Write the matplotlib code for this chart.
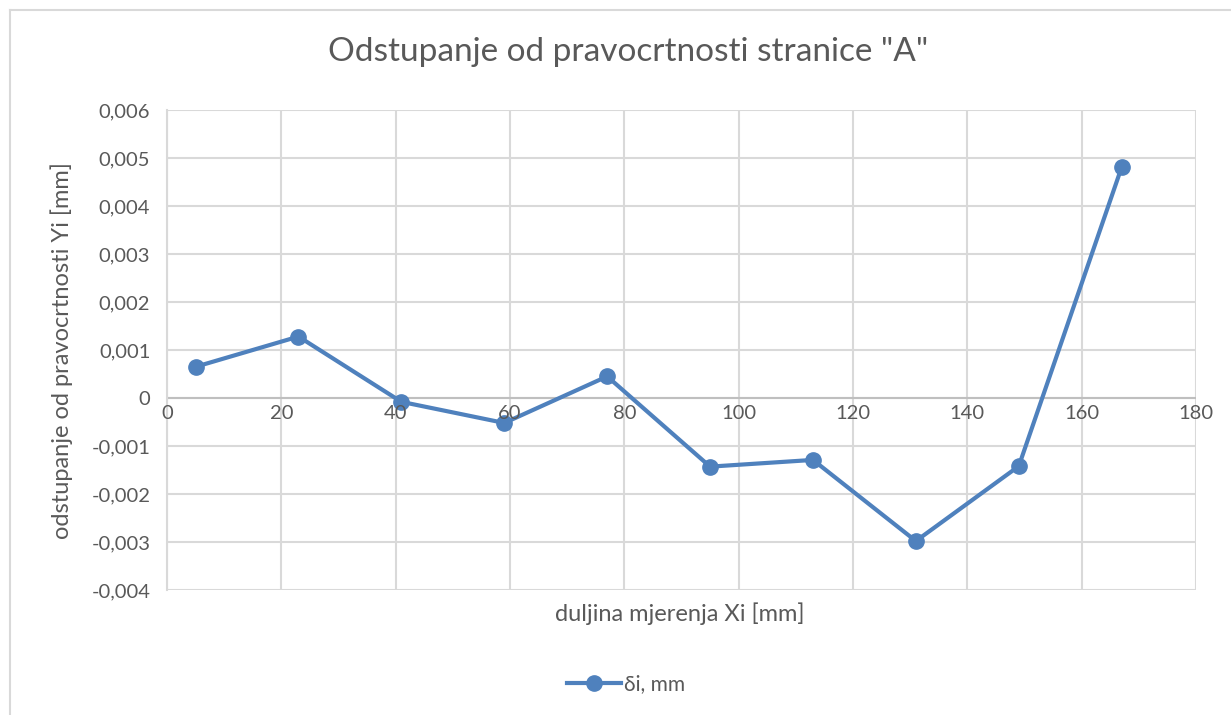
import matplotlib
matplotlib.use("Agg")
import matplotlib.pyplot as plt
from matplotlib.ticker import FuncFormatter, MultipleLocator
from matplotlib.lines import Line2D

# data
x_mm = [5, 23, 41, 59, 77, 95, 113, 131, 149, 167]
delta_mm = [0.00065, 0.00128, -0.00008, -0.00052, 0.00045,
            -0.00143, -0.00129, -0.00298, -0.00142, 0.00481]
series_name = "δi, mm"
title = 'Odstupanje od pravocrtnosti stranice "A"'
xlabel = "duljina mjerenja Xi [mm]"
ylabel = "odstupanje od pravocrtnosti Yi [mm]"

BLUE = "#4f81bd"
TXT = "#595959"
GRID = "#d9d9d9"

plt.rcParams["font.family"] = ["Lato", "DejaVu Sans"]

W, H = 1231, 715
fig = plt.figure(figsize=(W / 100, H / 100), dpi=100)
ax = fig.add_axes([167 / W, 1 - 590 / H, (1196 - 167) / W, (590 - 110) / H])

# outer chart frame (left + top edges visible)
fig.add_artist(Line2D([10 / W, 10 / W], [0, 1 - 10 / H], transform=fig.transFigure,
                      color=GRID, lw=1.5))
fig.add_artist(Line2D([10 / W, 1], [1 - 10 / H, 1 - 10 / H], transform=fig.transFigure,
                      color=GRID, lw=1.5))

ax.plot(x_mm, delta_mm, color=BLUE, lw=3, marker="o", ms=11, zorder=3)

ax.set_xlim(0, 180)
ax.set_ylim(-0.004, 0.006)
ax.xaxis.set_major_locator(MultipleLocator(20))
ax.yaxis.set_major_locator(MultipleLocator(0.001))


def comma(v, pos):
    if abs(v) < 1e-12:
        return "0"
    return f"{v:.3f}".replace(".", ",")


ax.yaxis.set_major_formatter(FuncFormatter(comma))

ax.grid(True, color=GRID, lw=1.5, zorder=0)
ax.set_axisbelow(True)
for s in ["top", "right", "bottom"]:
    ax.spines[s].set_visible(False)
ax.spines["left"].set_color(GRID)
ax.spines["left"].set_linewidth(1.5)
ax.axhline(0, color="#bfbfbf", lw=1.5, zorder=1)

ax.tick_params(axis="both", length=0, colors=TXT, labelsize=14.5)
ax.tick_params(axis="y", pad=12)
# x tick labels sit just under the zero line (Excel axis crossing at 0)
ax.xaxis.set_tick_params(labelbottom=False)
for xv in ax.get_xticks():
    if 0 <= xv <= 180:
        ax.text(xv, -0.00015, f"{xv:.0f}", ha="center", va="top", color=TXT,
                fontsize=14.5)

fig.text(628 / W, 1 - 52 / H, title, ha="center", va="center",
         color=TXT, fontsize=24)
fig.text(680 / W, 1 - 614 / H, xlabel, ha="center", va="center",
         color=TXT, fontsize=17)
fig.text(62 / W, 1 - 351 / H, ylabel, ha="center", va="center", rotation=90,
         color=TXT, fontsize=17)

handle = Line2D([], [], color=BLUE, lw=3, marker="o", ms=11)
fig.legend([handle], [series_name], loc="center", bbox_to_anchor=(626 / W, 1 - 684 / H),
           frameon=False, fontsize=15, labelcolor=TXT, handlelength=2.6,
           handletextpad=0.1)

fig.savefig("out.png", dpi=100)
